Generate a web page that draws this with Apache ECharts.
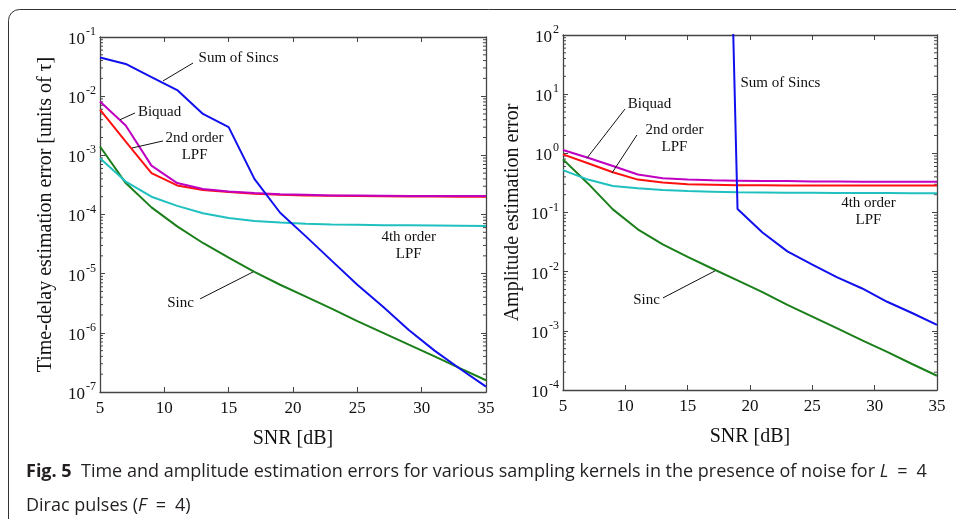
<!DOCTYPE html>
<html>
<head>
<meta charset="utf-8">
<script src="https://cdn.jsdelivr.net/npm/echarts@6/dist/echarts.min.js"></script>
<style>
  html, body { margin: 0; padding: 0; background: #fff; }
  #main { width: 956px; height: 519px; }
</style>
</head>
<body>
<div id="main"></div>
<script>
// SNR 采样点 (dB)
const snr = [5, 7, 9, 11, 13, 15, 17, 19, 21, 23, 25, 27, 29, 31, 33, 35];

// 左图：时延估计误差
const tdSumSincs = [4.5e-2, 3.5e-2, 2.1e-2, 1.27e-2, 5.0e-3, 3.0e-3, 4.0e-4, 1.07e-4, 4.27e-5, 1.66e-5, 6.5e-6, 2.75e-6, 1.12e-6, 5.0e-7, 2.45e-7, 1.23e-7];
const tdBiquad = [8.1e-3, 3.2e-3, 6.7e-4, 3.4e-4, 2.7e-4, 2.45e-4, 2.3e-4, 2.2e-4, 2.15e-4, 2.1e-4, 2.1e-4, 2.08e-4, 2.06e-4, 2.05e-4, 2.05e-4, 2.05e-4];
const td2ndLpf = [5.9e-3, 1.7e-3, 5.0e-4, 3.1e-4, 2.6e-4, 2.4e-4, 2.25e-4, 2.15e-4, 2.1e-4, 2.08e-4, 2.05e-4, 2.03e-4, 2.02e-4, 2.02e-4, 2.0e-4, 2.0e-4];
const td4thLpf = [8.9e-4, 3.6e-4, 2.0e-4, 1.4e-4, 1.05e-4, 8.7e-5, 7.8e-5, 7.3e-5, 7.0e-5, 6.8e-5, 6.7e-5, 6.6e-5, 6.55e-5, 6.5e-5, 6.45e-5, 6.4e-5];
const tdSinc = [1.41e-3, 3.4e-4, 1.32e-4, 6.3e-5, 3.3e-5, 1.86e-5, 1.07e-5, 6.5e-6, 4.1e-6, 2.57e-6, 1.58e-6, 1.0e-6, 6.3e-7, 4.0e-7, 2.5e-7, 1.58e-7];

// 右图：幅度估计误差 (Sum of Sincs 在 19 dB 以下远超坐标上限)
const ampSumSincs = [2e17, 1e17, 8e16, 5e16, 4e16, 3e16, 2e16, 0.115, 0.046, 0.022, 0.0132, 0.0080, 0.0052, 0.0031, 0.0020, 0.00126];
const ampBiquad = [1.14, 0.84, 0.61, 0.44, 0.38, 0.36, 0.35, 0.345, 0.34, 0.34, 0.335, 0.335, 0.33, 0.33, 0.33, 0.33];
const amp2ndLpf = [0.96, 0.68, 0.48, 0.36, 0.32, 0.30, 0.295, 0.29, 0.29, 0.287, 0.285, 0.285, 0.285, 0.285, 0.285, 0.285];
const amp4thLpf = [0.52, 0.36, 0.28, 0.257, 0.24, 0.23, 0.225, 0.22, 0.218, 0.216, 0.215, 0.214, 0.213, 0.213, 0.212, 0.212];
const ampSinc = [0.79, 0.31, 0.113, 0.052, 0.029, 0.0178, 0.0112, 0.0071, 0.0045, 0.00275, 0.00174, 0.0011, 0.00069, 0.00044, 0.000275, 0.000174];

// 曲线旁的文字标注（数据坐标）
const notes = [
    { side: 0, text: 'Sum of Sincs', at: [15.77, 0.0447], from: [9.9, 0.0181], to: [12.23, 0.0363] },
    { side: 0, text: 'Biquad', at: [9.63, 5.4e-3], from: [6.56, 4.0e-3], to: [7.72, 5.2e-3] },
    { side: 0, text: '2nd order\nLPF', at: [12.35, 1.41e-3], from: [7.49, 1.33e-3], to: [9.9, 1.75e-3] },
    { side: 0, text: '4th order\nLPF', at: [28.99, 2.95e-5] },
    { side: 0, text: 'Sinc', at: [11.26, 3.2e-6], from: [12.78, 3.75e-6], to: [16.9, 1.07e-5] },
    { side: 1, text: 'Biquad', at: [11.94, 6.82], from: [6.92, 0.83], to: [9.97, 5.6] },
    { side: 1, text: '2nd order\nLPF', at: [13.94, 1.75], from: [8.93, 0.466], to: [10.93, 2.04] },
    { side: 1, text: 'Sum of Sincs', at: [22.44, 15.5] },
    { side: 1, text: '4th order\nLPF', at: [29.5, 0.102] },
    { side: 1, text: 'Sinc', at: [11.7, 3.3e-3], from: [13.02, 3.6e-3], to: [17.19, 0.0103] }
];

const SERIF = 'Liberation Serif';
const INK = '#111';
const AXIS = '#444';

function pairs(vals) {
    return snr.map((s, i) => [s, vals[i]]);
}

function powLabel(v) {
    const e = Math.round(Math.log10(v));
    return '{b|10}{s|' + e + '}';
}

function xAxes(grid) {
    const base = {
        gridIndex: grid,
        type: 'value',
        min: 5,
        max: 35,
        interval: 5,
        axisLine: { lineStyle: { color: AXIS, width: 1.3 } },
        axisTick: { inside: true, length: 5, lineStyle: { color: AXIS } },
        splitLine: { show: false }
    };
    return [
        Object.assign({}, base, {
            position: 'bottom',
            axisLabel: { fontFamily: SERIF, fontSize: 17, color: INK, margin: 8 },
            name: 'SNR [dB]',
            nameLocation: 'middle',
            nameGap: 37,
            nameTextStyle: { fontFamily: SERIF, fontSize: 20, color: INK }
        }),
        Object.assign({}, base, { position: 'top', axisLabel: { show: false } })
    ];
}

function yAxes(grid, min, max, name, gap) {
    const base = {
        gridIndex: grid,
        type: 'log',
        logBase: 10,
        min: min,
        max: max,
        axisLine: { show: true, lineStyle: { color: AXIS, width: 1.3 } },
        axisTick: { inside: true, length: 5, lineStyle: { color: AXIS } },
        splitLine: { show: false }
    };
    return [
        Object.assign({}, base, {
            position: 'left',
            axisLabel: {
                formatter: powLabel,
                margin: 4,
                rich: {
                    b: { fontFamily: SERIF, fontSize: 17, color: INK, lineHeight: 22, verticalAlign: 'bottom' },
                    s: { fontFamily: SERIF, fontSize: 12, color: INK, verticalAlign: 'top', padding: [0, 0, 0, 1] }
                }
            },
            name: name,
            nameLocation: 'middle',
            nameGap: gap,
            nameTextStyle: { fontFamily: SERIF, fontSize: 20, color: INK }
        }),
        Object.assign({}, base, { position: 'right', axisLabel: { show: false } })
    ];
}

function line(name, vals, color, grid) {
    return {
        name: name,
        type: 'line',
        xAxisIndex: grid * 2,
        yAxisIndex: grid * 2,
        data: pairs(vals),
        showSymbol: false,
        clip: true,
        lineStyle: { color: color, width: 2 },
        itemStyle: { color: color },
        z: 3
    };
}

// 对数轴的 2..9 小刻度，左右两边都画
function minorTicks(grid, lo, hi) {
    const vals = [];
    for (let e = lo; e < hi; e++) {
        for (let k = 2; k <= 9; k++) vals.push([5, k * Math.pow(10, e)]);
    }
    return {
        type: 'custom',
        xAxisIndex: grid * 2,
        yAxisIndex: grid * 2,
        silent: true,
        data: vals,
        renderItem: function (params, api) {
            const v = api.value(1);
            const l = api.coord([5, v]);
            const r = api.coord([35, v]);
            const st = { stroke: AXIS, lineWidth: 1 };
            return {
                type: 'group',
                children: [
                    { type: 'line', shape: { x1: l[0], y1: l[1], x2: l[0] + 3, y2: l[1] }, style: st },
                    { type: 'line', shape: { x1: r[0] - 3, y1: r[1], x2: r[0], y2: r[1] }, style: st }
                ]
            };
        }
    };
}

const C_BLUE = '#1010ee';
const C_MAG = '#c000c0';
const C_RED = '#ff1010';
const C_CYAN = '#20c0c0';
const C_GREEN = '#1a7f1a';

const chart = echarts.init(document.getElementById('main'));
chart.setOption({
    animation: false,
    grid: [
        { left: 100, top: 37, width: 386, height: 355 },
        { left: 563, top: 35, width: 374, height: 355 }
    ],
    xAxis: xAxes(0).concat(xAxes(1)),
    yAxis: yAxes(0, 1e-7, 1e-1, 'Time-delay estimation error [units of \u03c4]', 44)
        .concat(yAxes(1, 1e-4, 1e2, 'Amplitude estimation error', 40)),
    series: [
        minorTicks(0, -7, -1),
        minorTicks(1, -4, 2),
        line('Sinc', tdSinc, C_GREEN, 0),
        line('4th order LPF', td4thLpf, C_CYAN, 0),
        line('2nd order LPF', td2ndLpf, C_RED, 0),
        line('Biquad', tdBiquad, C_MAG, 0),
        line('Sum of Sincs', tdSumSincs, C_BLUE, 0),
        line('Sinc', ampSinc, C_GREEN, 1),
        line('4th order LPF', amp4thLpf, C_CYAN, 1),
        line('2nd order LPF', amp2ndLpf, C_RED, 1),
        line('Biquad', ampBiquad, C_MAG, 1),
        line('Sum of Sincs', ampSumSincs, C_BLUE, 1)
    ]
});

// 标注与图注
function toPx(side, p) {
    return chart.convertToPixel({ xAxisIndex: side * 2, yAxisIndex: side * 2 }, p);
}

const CAP = '#231f20';
const graphics = [
    {
        type: 'rect',
        shape: { x: 8.5, y: 9.5, width: 1000, height: 530, r: 11 },
        style: { fill: 'none', stroke: '#333', lineWidth: 1 },
        silent: true
    },
    {
        type: 'text',
        x: 26,
        y: 472,
        style: {
            text: '{b|Fig. 5}  Time and amplitude estimation errors for various sampling kernels in the presence of noise for {i|L}\u2002=\u20024',
            font: '18px "Open Sans"',
            fill: CAP,
            textVerticalAlign: 'middle',
            rich: {
                b: { fontFamily: 'Open Sans', fontWeight: 'bold', fontSize: 18, fill: CAP },
                i: { fontFamily: 'Open Sans', fontStyle: 'italic', fontSize: 18, fill: CAP }
            }
        }
    },
    {
        type: 'text',
        x: 26,
        y: 506,
        style: {
            text: 'Dirac pulses ({i|F}\u2002=\u20024)',
            font: '18px "Open Sans"',
            fill: CAP,
            textVerticalAlign: 'middle',
            rich: {
                i: { fontFamily: 'Open Sans', fontStyle: 'italic', fontSize: 18, fill: CAP }
            }
        }
    }
];

notes.forEach(function (n) {
    const c = toPx(n.side, n.at);
    graphics.push({
        type: 'text',
        x: c[0],
        y: c[1],
        z: 10,
        style: {
            text: n.text,
            font: '15px "' + SERIF + '"',
            fill: INK,
            align: 'center',
            verticalAlign: 'middle',
            lineHeight: 17
        }
    });
    if (n.from) {
        const a = toPx(n.side, n.from);
        const b = toPx(n.side, n.to);
        graphics.push({
            type: 'line',
            z: 10,
            shape: { x1: a[0], y1: a[1], x2: b[0], y2: b[1] },
            style: { stroke: '#111', lineWidth: 1 }
        });
    }
});

chart.setOption({ graphic: graphics });
</script>
</body>
</html>
